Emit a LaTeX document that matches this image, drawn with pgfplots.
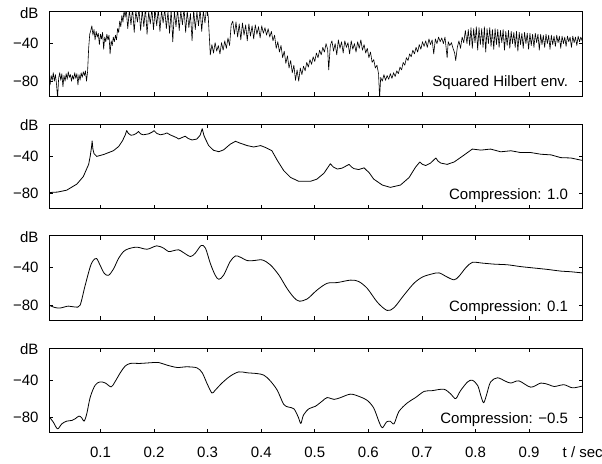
\documentclass[border=0pt]{standalone}
\usepackage{fontspec}
\setmainfont{Liberation Sans}
\usepackage{pgfplots}
\pgfplotsset{compat=1.18}
\pgfplotsset{
  panel/.style={
    scale only axis, width=533.7pt, height=84.5pt,
    xmin=0.004, xmax=1.0, ymin=-96, ymax=-6,
    xtick={0.1,0.2,0.3,0.4,0.5,0.6,0.7,0.8,0.9,1.0},
    xticklabels={},
    ytick={-80,-40}, yticklabels={−80,−40},
    extra y ticks={-7.3}, extra y tick labels={dB},
    extra y tick style={major tick length=0pt},
    yticklabel style={anchor=east, inner sep=0pt, xshift=-10.3pt},
    xticklabel style={anchor=base, inner sep=0pt, yshift=-25pt},
    major tick length=4pt,
    every tick/.style={black, line width=0.8pt},
    axis line style={line width=1pt},
    tick align=inside,
  },
  curve/.style={black, line width=0.8pt, line join=round, mark=none},
}
\begin{document}
\fontsize{15}{18}\selectfont
\begin{tikzpicture}
% ---------------- Panel 1 ----------------
\begin{axis}[panel, at={(49pt,-11.7pt)}, anchor=north west]
\addplot[curve, line width=0.6pt] coordinates {
(0.004,-76)(0.006,-84)(0.008,-74)(0.010,-79)(0.012,-71)(0.014,-80)(0.016,-73)(0.018,-83)(0.020,-98)(0.022,-77)
(0.024,-71)(0.026,-79)(0.028,-72)(0.030,-86)(0.032,-74)(0.034,-80)(0.036,-72)(0.038,-78)(0.040,-70)(0.042,-76)
(0.044,-73)(0.046,-80)(0.048,-74)(0.050,-78)(0.052,-71)(0.054,-77)(0.056,-72)(0.058,-84)(0.060,-73)(0.062,-79)
(0.064,-71)(0.066,-76)(0.068,-70)(0.070,-74)(0.072,-69)(0.074,-80)(0.076,-70)(0.078,-45)(0.080,-30)
(0.082,-26)(0.084,-21)(0.086,-31)(0.088,-25)(0.090,-36)(0.092,-27)(0.094,-33)(0.096,-29)(0.098,-41)(0.100,-30)
(0.102,-35)(0.104,-28)(0.106,-46)(0.108,-33)(0.110,-38)(0.112,-30)(0.114,-36)(0.116,-31)(0.118,-51)(0.120,-37)
(0.122,-42)(0.124,-33)(0.126,-38)(0.128,-31)(0.130,-36)(0.132,-24)(0.134,-28)(0.136,-16)(0.138,-22)(0.140,-10)
(0.142,-17)(0.144,-5)(0.146,-12)
(0.148,-3)(0.151,-24)(0.154,-4)(0.157,-20)(0.160,-2)(0.163,-28)(0.166,-5)(0.169,-17)(0.172,-3)(0.175,-26)
(0.178,-4)(0.181,-22)(0.184,-2)(0.187,-30)(0.190,-6)(0.193,-19)(0.196,-3)(0.199,-25)(0.202,-4)(0.205,-21)
(0.208,-3)(0.211,-27)(0.214,-5)(0.217,-18)(0.220,-3)(0.223,-24)(0.226,-6)(0.229,-29)(0.232,-4)(0.235,-38)
(0.238,-5)(0.241,-22)(0.244,-3)(0.247,-26)(0.250,-5)(0.253,-20)(0.256,-2)(0.259,-28)(0.262,-5)(0.265,-23)
(0.268,-8)(0.271,-37)(0.274,-4)(0.277,-25)(0.280,-6)(0.283,-21)(0.286,-3)(0.289,-27)(0.292,-5)(0.295,-18)
(0.298,-2)(0.301,-10)
(0.303,-30)(0.305,-52)(0.308,-41)(0.311,-50)(0.314,-39)(0.317,-48)(0.320,-42)(0.323,-51)(0.326,-39)(0.329,-47)
(0.332,-37)(0.335,-45)(0.338,-34)(0.341,-42)(0.344,-20)(0.347,-16)
(0.350,-30)(0.353,-17)(0.356,-33)(0.359,-19)(0.362,-36)(0.365,-18)(0.368,-31)(0.371,-20)(0.374,-37)(0.377,-19)
(0.380,-32)(0.383,-21)(0.386,-35)(0.389,-20)(0.392,-30)(0.395,-22)(0.398,-34)(0.401,-21)(0.404,-29)(0.407,-23)
(0.410,-31)(0.413,-24)(0.416,-33)
(0.419,-27)(0.422,-37)(0.425,-31)(0.428,-45)(0.431,-38)(0.434,-49)(0.437,-42)(0.440,-55)(0.443,-48)(0.446,-61)
(0.449,-53)(0.452,-66)(0.455,-58)(0.458,-71)(0.461,-63)(0.464,-79)(0.467,-68)(0.470,-80)(0.473,-66)(0.476,-73)
(0.479,-64)(0.482,-69)(0.485,-60)(0.488,-65)(0.491,-57)(0.494,-62)(0.497,-54)(0.500,-59)
(0.503,-50)(0.506,-55)(0.509,-47)(0.512,-52)(0.515,-44)(0.518,-49)(0.521,-40)(0.524,-46)(0.526,-68)(0.529,-42)
(0.532,-37)(0.535,-48)(0.538,-40)(0.541,-52)(0.544,-36)(0.547,-45)(0.550,-38)(0.553,-50)(0.556,-37)(0.559,-44)
(0.562,-39)(0.565,-51)(0.568,-37)(0.571,-46)(0.574,-40)(0.577,-49)(0.580,-38)(0.583,-45)(0.586,-36)(0.589,-47)
(0.592,-41)(0.595,-50)(0.598,-45)
(0.601,-55)(0.604,-49)(0.607,-60)(0.610,-57)(0.613,-66)(0.616,-63)(0.619,-72)(0.621,-98)(0.623,-76)(0.626,-80)
(0.629,-73)(0.632,-79)(0.635,-74)(0.638,-78)(0.641,-72)(0.644,-77)(0.647,-71)(0.650,-75)(0.653,-69)(0.656,-72)
(0.659,-65)(0.662,-68)(0.665,-60)(0.668,-63)(0.671,-55)(0.674,-58)(0.677,-51)(0.680,-54)(0.683,-47)(0.686,-51)
(0.689,-44)(0.692,-49)(0.695,-41)(0.698,-46)(0.701,-38)(0.704,-43)(0.707,-37)(0.710,-44)(0.713,-35)(0.716,-41)
(0.719,-36)(0.722,-51)(0.725,-35)(0.728,-40)(0.731,-33)(0.734,-38)(0.737,-34)(0.740,-40)(0.743,-33)(0.747,-55)
(0.749,-38)(0.752,-42)(0.755,-39)(0.758,-45)(0.761,-50)(0.763,-58)(0.766,-44)(0.769,-37)(0.772,-45)(0.775,-33)
(0.778,-39)(0.781,-26)
(0.7840,-40)(0.7865,-25)(0.7890,-42)(0.7915,-23)(0.7940,-45)(0.7965,-24)(0.7990,-39)(0.8015,-22)(0.8040,-47)(0.8065,-23)
(0.8090,-41)(0.8115,-24)(0.8140,-44)(0.8165,-22)(0.8190,-49)(0.8215,-24)(0.8240,-40)(0.8265,-23)(0.8290,-43)(0.8315,-25)
(0.8340,-46)(0.8365,-24)(0.8390,-41)(0.8415,-25)(0.8440,-44)(0.8465,-26)(0.8490,-39)(0.8515,-25)(0.8540,-47)(0.8565,-27)
(0.8590,-42)(0.8615,-26)(0.8640,-45)(0.8665,-27)(0.8690,-40)(0.8715,-28)(0.8740,-44)(0.8765,-27)(0.8790,-48)(0.8815,-28)
(0.8840,-41)(0.8865,-29)(0.8890,-45)(0.8915,-28)(0.8940,-40)(0.8965,-29)(0.8990,-46)(0.9015,-29)(0.9040,-42)(0.9065,-30)
(0.9090,-44)(0.9115,-29)(0.9140,-39)(0.9165,-30)(0.9190,-47)(0.9215,-30)(0.9240,-41)(0.9265,-31)(0.9290,-44)(0.9315,-30)
(0.9340,-40)(0.9365,-31)(0.9390,-46)(0.9415,-31)(0.9440,-41)(0.9465,-32)(0.9490,-43)(0.9515,-31)(0.9540,-39)(0.9565,-32)
(0.9590,-45)(0.9615,-32)(0.9640,-40)(0.9665,-33)(0.9690,-43)(0.9715,-32)(0.9740,-38)(0.9765,-33)(0.9790,-44)(0.9815,-32)
(0.9840,-39)(0.9865,-33)(0.9890,-42)(0.9915,-32)(0.9940,-38)(0.9965,-33)(0.9990,-37)
};
\node[anchor=base east, inner sep=0pt] at (axis cs:0.973,-86.2) {Squared Hilbert env.};
\end{axis}
% ---------------- Panel 2 ----------------
\begin{axis}[panel, at={(49pt,-124pt)}, anchor=north west]
\addplot[curve] coordinates {
(0.004,-79)(0.020,-78.5)(0.037,-76.5)(0.056,-70)(0.068,-62)(0.078,-49)(0.081,-40)(0.0835,-30)(0.0845,-24)(0.086,-33)
(0.088,-37.5)(0.093,-40.5)(0.106,-38.5)(0.124,-34.5)(0.134,-30)(0.141,-24)(0.146,-18)(0.149,-13)(0.152,-16)(0.157,-18)
(0.162,-17.5)(0.167,-16)(0.171,-14)(0.175,-16.5)(0.180,-17.5)(0.190,-16.5)(0.197,-14.5)(0.200,-13)(0.205,-16)(0.212,-17.5)
(0.220,-16.5)(0.224,-15.5)(0.230,-17.5)(0.236,-19)(0.242,-20.5)(0.246,-22)(0.252,-20.5)(0.258,-19)(0.264,-21.5)(0.271,-23)
(0.280,-22)(0.286,-18)(0.290,-11)(0.293,-18)(0.296,-22)(0.302,-29)(0.311,-34)(0.321,-35.5)(0.330,-33.5)(0.342,-27.6)
(0.352,-24.4)(0.361,-26.5)(0.374,-29)(0.386,-30.5)(0.399,-29)(0.408,-31)(0.420,-34.5)(0.430,-44.7)(0.442,-55.6)(0.455,-63)
(0.470,-67)(0.492,-67)(0.504,-64.7)(0.517,-58.5)(0.529,-48.4)(0.535,-52)(0.542,-54)(0.551,-53)(0.564,-49)(0.569,-52)
(0.573,-53.5)(0.582,-54.5)(0.592,-52.7)(0.596,-55)(0.601,-57.5)(0.610,-64.7)(0.626,-71)(0.641,-73.5)(0.660,-71)(0.676,-63)
(0.688,-52)(0.696,-46.5)(0.701,-49)(0.707,-50.2)(0.716,-47.6)(0.726,-42.2)(0.730,-45.5)(0.735,-47.6)(0.747,-49)(0.760,-46.5)
(0.778,-39.3)(0.794,-32.7)(0.810,-33.8)(0.828,-32.7)(0.847,-35.6)(0.866,-34.5)(0.884,-36.4)(0.903,-36.4)(0.922,-38.2)(0.941,-38.9)
(0.959,-41.8)(0.978,-42.2)(0.9985,-44.7)
};
\node[anchor=base east, inner sep=0pt] at (axis cs:0.973,-86.2) {Compression: 1.0};
\end{axis}
% ---------------- Panel 3 ----------------
\begin{axis}[panel, at={(49pt,-235.7pt)}, anchor=north west]
\addplot[curve, smooth, tension=0.5] coordinates {
(0.004,-80)(0.015,-82.5)(0.025,-83)(0.040,-81)(0.053,-82)(0.062,-80)(0.071,-60)(0.081,-39)(0.087,-32)(0.093,-30.4)
(0.099,-37)(0.107,-46)(0.115,-48.2)(0.124,-41.8)(0.134,-30)(0.143,-22.9)(0.152,-20)(0.168,-18.2)(0.187,-20.4)(0.205,-16.8)
(0.218,-19.3)(0.227,-22.9)(0.236,-22)(0.246,-21)(0.255,-24)(0.268,-28.2)(0.277,-24.6)(0.288,-16.4)(0.296,-19.3)(0.305,-35.4)
(0.314,-47.9)(0.321,-52.5)(0.330,-47.9)(0.342,-33.6)(0.352,-27.5)(0.361,-28.9)(0.374,-32.5)(0.386,-32.5)(0.402,-31.8)(0.417,-37)
(0.433,-47.9)(0.448,-62)(0.461,-71.8)(0.471,-75.7)(0.486,-73.3)(0.504,-64)(0.523,-56.7)(0.542,-55.9)(0.567,-53.3)(0.582,-54.8)
(0.598,-62.2)(0.617,-77)(0.635,-85.6)(0.648,-82.6)(0.666,-69.6)(0.685,-56.7)(0.701,-50)(0.719,-46.7)(0.732,-45.6)(0.747,-50)
(0.760,-53)(0.769,-49.3)(0.782,-40)(0.794,-34.4)(0.813,-35.2)(0.835,-36.3)(0.860,-37)(0.884,-38.9)(0.909,-40.4)(0.934,-41.9)
(0.959,-43.7)(0.978,-44.4)(0.9985,-45.6)
};
\node[anchor=base east, inner sep=0pt] at (axis cs:0.973,-86.2) {Compression: 0.1};
\end{axis}
% ---------------- Panel 4 ----------------
\begin{axis}[panel, at={(49pt,-348.3pt)}, anchor=north west,
  xticklabels={0.1,0.2,0.3,0.4,0.5,0.6,0.7,0.8,0.9,t / sec}]
\addplot[curve, smooth, tension=0.5] coordinates {
(0.004,-78.6)(0.012,-84.6)(0.020,-91.8)(0.028,-86.4)(0.037,-83.6)(0.047,-82.8)(0.053,-81)(0.060,-78.2)(0.065,-80)(0.0695,-83.6)
(0.0745,-75.7)(0.081,-57.9)(0.090,-45.4)(0.099,-41.8)(0.109,-42.9)(0.120,-47.1)(0.127,-41.8)(0.137,-32.1)(0.146,-25)(0.156,-22.1)
(0.174,-22.1)(0.193,-21.4)(0.208,-21.1)(0.224,-23.9)(0.243,-26.4)(0.261,-25.7)(0.280,-26.8)(0.290,-32.1)(0.299,-43.6)(0.308,-53.6)
(0.314,-50.7)(0.327,-42.9)(0.342,-35.7)(0.358,-31.1)(0.374,-32.1)(0.392,-32.9)(0.405,-34.6)(0.417,-40.7)(0.430,-50.7)(0.442,-65.7)
(0.451,-68.6)(0.461,-70.4)(0.469,-79)(0.474,-86)(0.479,-77)(0.489,-70.4)(0.501,-67.8)(0.514,-62.2)(0.523,-58.5)(0.536,-60.4)
(0.548,-58.5)(0.567,-54.8)(0.585,-57.8)(0.598,-61.5)(0.610,-69.6)(0.620,-84.4)(0.626,-90.7)(0.634,-84.4)(0.641,-83.7)(0.648,-86.3)
(0.657,-73.3)(0.673,-64)(0.688,-58.5)(0.704,-51.9)(0.719,-51.1)(0.741,-49.6)(0.754,-54.8)(0.763,-59.6)(0.772,-51.1)(0.785,-41.9)
(0.794,-40)(0.804,-45.6)(0.810,-56.7)(0.815,-64)(0.820,-56.7)(0.828,-41.9)(0.841,-37.4)(0.856,-41.1)(0.866,-43)(0.881,-40.7)
(0.903,-47.4)(0.922,-43)(0.937,-44.8)(0.947,-46.7)(0.965,-44.8)(0.981,-48.1)(0.9985,-46.3)
};
\node[anchor=base east, inner sep=0pt] at (axis cs:0.973,-86.2) {Compression: −0.5};
\end{axis}
\pgfresetboundingbox
\useasboundingbox (0pt,0pt) rectangle (602pt,-463pt);
\end{tikzpicture}
\end{document}
